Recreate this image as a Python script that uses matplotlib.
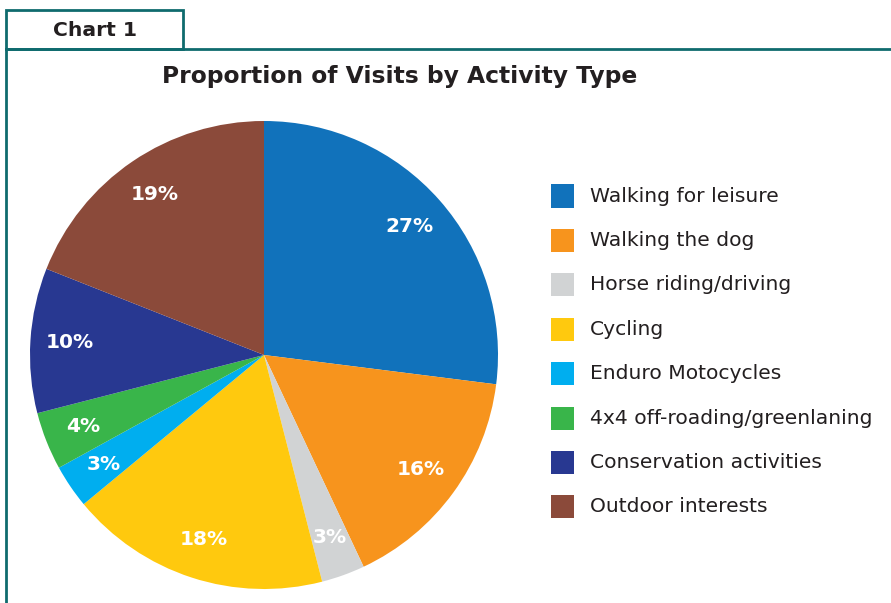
import matplotlib
matplotlib.use("Agg")
import matplotlib.pyplot as plt
from matplotlib.patches import Rectangle
from matplotlib.lines import Line2D

# Dữ liệu
activities = [
    "Walking for leisure",
    "Walking the dog",
    "Horse riding/driving",
    "Cycling",
    "Enduro Motocycles",
    "4x4 off-roading/greenlaning",
    "Conservation activities",
    "Outdoor interests",
]
shares = [27, 16, 3, 18, 3, 4, 10, 19]
colors = ["#1172bb", "#f7941d", "#d1d3d4", "#ffc90e",
          "#00aeef", "#39b54a", "#283891", "#8b4a3a"]

W, H = 891, 603
TEAL = "#0f6b6e"
DARK = "#231f20"

fig = plt.figure(figsize=(W / 100, H / 100), dpi=100)
fig.patch.set_facecolor("white")


def px(x, y):
    """Pixel (góc trên trái) -> toạ độ figure."""
    return x / W, 1 - y / H


# Khung viền + tab "Chart 1"
x0, y0 = px(6, 10)
x1, y1 = px(183, 49)
fig.add_artist(Rectangle((x0, y1), x1 - x0, y0 - y1, transform=fig.transFigure,
                         facecolor="white", edgecolor=TEAL, linewidth=2))
fig.add_artist(Line2D([x0, 1], [y1, y1], transform=fig.transFigure, color=TEAL, linewidth=2))
fig.add_artist(Line2D([x0, x0], [y1, 0], transform=fig.transFigure, color=TEAL, linewidth=2))
tx, ty = px(95, 30)
fig.text(tx, ty, "Chart 1", ha="center", va="center", fontsize=14.6,
         fontweight="bold", family="DejaVu Sans", color=DARK)

# Tiêu đề
tx, ty = px(400, 77)
fig.text(tx, ty, "Proportion of Visits by Activity Type", ha="center", va="center",
         fontsize=16.8, fontweight="bold", family="DejaVu Sans", color=DARK)

# Biểu đồ tròn
cx, cy, r = 264, 355, 234
ax = fig.add_axes([(cx - r) / W, (H - cy - r) / H, 2 * r / W, 2 * r / H])
wedges, texts, autotexts = ax.pie(
    shares, colors=colors, startangle=90, counterclock=False,
    autopct="%d%%", pctdistance=0.83, radius=1,
    wedgeprops={"linewidth": 0},
    textprops={"fontsize": 14.5, "fontweight": "bold", "color": "white",
               "family": "DejaVu Sans"},
)
ax.set_xlim(-1, 1)
ax.set_ylim(-1, 1)
ax.set_aspect("equal")
ax.axis("off")

# Chú thích
for i, (name, col) in enumerate(zip(activities, colors)):
    yc = 196 + i * 44.4
    bx, by = px(551, yc + 11.5)
    fig.add_artist(Rectangle((bx, by), 23 / W, 23 / H, transform=fig.transFigure,
                             facecolor=col, edgecolor="none"))
    lx, ly = px(590, yc)
    fig.text(lx, ly, name, ha="left", va="center", fontsize=14.6,
             family="DejaVu Sans", color=DARK)

fig.savefig("out.png", dpi=100, facecolor=fig.get_facecolor())
